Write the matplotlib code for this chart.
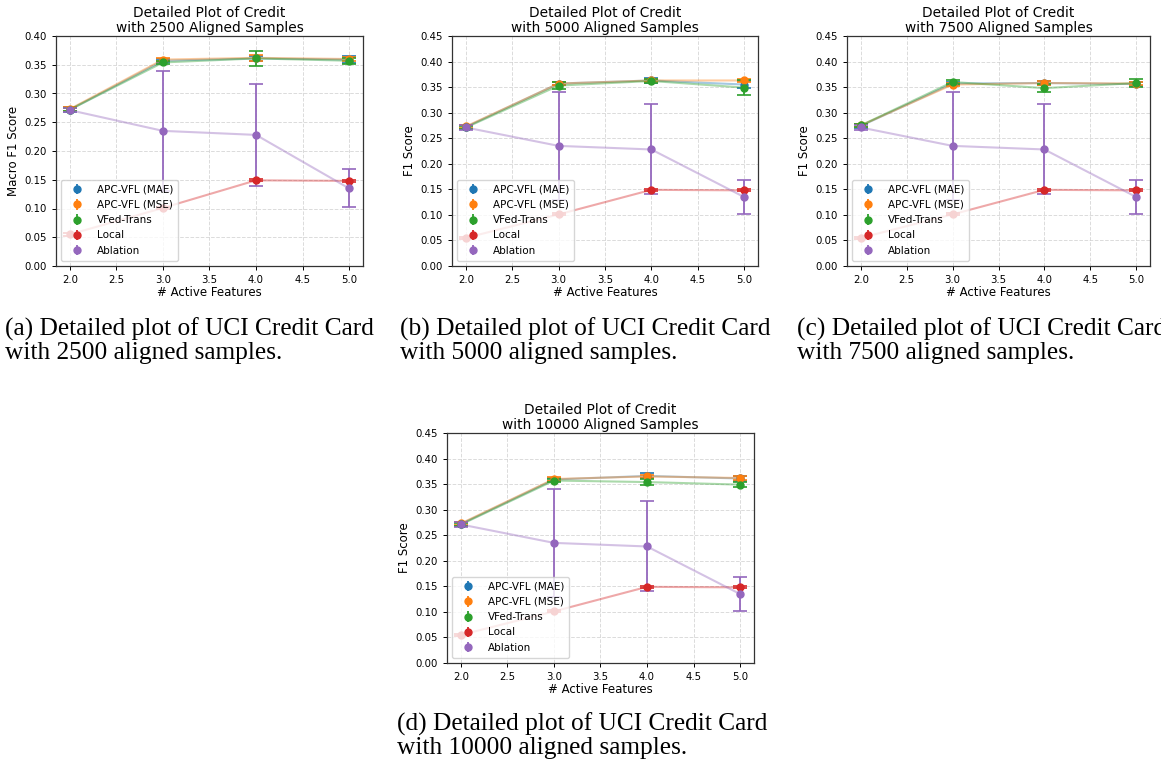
import matplotlib
matplotlib.use("Agg")
import matplotlib.pyplot as plt
import numpy as np

x_features = [2.0, 3.0, 4.0, 5.0]
series_names = ["APC-VFL (MAE)", "APC-VFL (MSE)", "VFed-Trans", "Local", "Ablation"]
series_colors = ["#1f77b4", "#ff7f0e", "#2ca02c", "#d62728", "#9467bd"]

# shared baselines
local_mean = [0.055, 0.101, 0.149, 0.148]
local_err = [0.002, 0.002, 0.002, 0.002]
ablation_mean = [0.271, 0.235, 0.228, 0.135]
ablation_err = [0.004, 0.105, 0.088, 0.033]

# 2500 aligned samples
mae_2500 = [0.272, 0.357, 0.361, 0.359]
mae_2500_err = [0.004, 0.003, 0.004, 0.006]
mse_2500 = [0.273, 0.359, 0.362, 0.360]
mse_2500_err = [0.003, 0.003, 0.005, 0.004]
vfed_2500 = [0.272, 0.354, 0.361, 0.357]
vfed_2500_err = [0.003, 0.003, 0.013, 0.005]

# 5000 aligned samples
mae_5000 = [0.272, 0.357, 0.363, 0.355]
mae_5000_err = [0.004, 0.003, 0.004, 0.007]
mse_5000 = [0.273, 0.357, 0.363, 0.363]
mse_5000_err = [0.003, 0.003, 0.003, 0.003]
vfed_5000 = [0.271, 0.353, 0.362, 0.349]
vfed_5000_err = [0.003, 0.007, 0.003, 0.014]

# 7500 aligned samples
mae_7500 = [0.274, 0.357, 0.358, 0.356]
mae_7500_err = [0.004, 0.003, 0.003, 0.004]
mse_7500 = [0.275, 0.355, 0.358, 0.357]
mse_7500_err = [0.003, 0.003, 0.003, 0.003]
vfed_7500 = [0.275, 0.360, 0.348, 0.358]
vfed_7500_err = [0.003, 0.003, 0.008, 0.008]

# 10000 aligned samples
mae_10000 = [0.272, 0.359, 0.366, 0.361]
mae_10000_err = [0.004, 0.003, 0.005, 0.005]
mse_10000 = [0.273, 0.360, 0.365, 0.362]
mse_10000_err = [0.003, 0.003, 0.003, 0.004]
vfed_10000 = [0.271, 0.357, 0.354, 0.349]
vfed_10000_err = [0.003, 0.003, 0.006, 0.005]

panel_samples = [2500, 5000, 7500, 10000]
panel_ylabels = ["Macro F1 Score", "F1 Score", "F1 Score", "F1 Score"]
panel_ymax = [0.40, 0.45, 0.45, 0.45]
panel_captions = [
    "(a) Detailed plot of UCI Credit Card\nwith 2500 aligned samples.",
    "(b) Detailed plot of UCI Credit Card\nwith 5000 aligned samples.",
    "(c) Detailed plot of UCI Credit Card\nwith 7500 aligned samples.",
    "(d) Detailed plot of UCI Credit Card\nwith 10000 aligned samples.",
]
panel_data = [
    [(mae_2500, mae_2500_err), (mse_2500, mse_2500_err), (vfed_2500, vfed_2500_err)],
    [(mae_5000, mae_5000_err), (mse_5000, mse_5000_err), (vfed_5000, vfed_5000_err)],
    [(mae_7500, mae_7500_err), (mse_7500, mse_7500_err), (vfed_7500, vfed_7500_err)],
    [(mae_10000, mae_10000_err), (mse_10000, mse_10000_err), (vfed_10000, vfed_10000_err)],
]

W, H = 1161, 767
fig = plt.figure(figsize=(W / 100, H / 100), dpi=100)

axes_px = [
    (56, 36, 307, 230),
    (452, 36, 306, 230),
    (847, 36, 303, 230),
    (447, 433, 307, 230),
]
caption_px = [(5, 318), (400, 318), (797, 318), (397, 713)]

for i in range(4):
    lx, ty, w, h = axes_px[i]
    ax = fig.add_axes([lx / W, 1 - (ty + h) / H, w / W, h / H])
    all_series = panel_data[i] + [(local_mean, local_err), (ablation_mean, ablation_err)]
    handles = []
    for (m, e), name, c in zip(all_series, series_names, series_colors):
        ax.plot(x_features, m, color=c, alpha=0.4, lw=1.5)
        ax.errorbar(x_features, m, yerr=e, fmt="o", color=c, capsize=5,
                    markersize=5, elinewidth=1.3, capthick=1.2)
        proxy = ax.errorbar([np.nan], [np.nan], yerr=[0.01], fmt="o", color=c,
                            capsize=0, markersize=5, elinewidth=1.3, label=name)
        handles.append(proxy)
    ax.set_xlim(1.85, 5.15)
    ax.set_ylim(0, panel_ymax[i])
    ax.set_yticks(np.arange(0, panel_ymax[i] + 0.001, 0.05))
    ax.set_xticks([2.0, 2.5, 3.0, 3.5, 4.0, 4.5, 5.0])
    ax.grid(True, linestyle="--", color="#cccccc", alpha=0.7, lw=0.7)
    ax.tick_params(labelsize=7.3, length=3, width=0.7)
    for s in ax.spines.values():
        s.set_color("#333333")
        s.set_linewidth(0.9)
    ax.set_xlabel("# Active Features", fontsize=8.5, labelpad=1)
    ax.set_ylabel(panel_ylabels[i], fontsize=8.5, labelpad=3)
    ax.set_title(f"Detailed Plot of Credit\nwith {panel_samples[i]} Aligned Samples",
                 fontsize=9.9, pad=3, linespacing=1.05)
    ax.legend(handles=handles, loc="lower left", fontsize=7.5, framealpha=0.8,
              borderpad=0.5, labelspacing=0.5, handletextpad=0.9)
    cx, cy = caption_px[i]
    fig.text(cx / W, 1 - cy / H, panel_captions[i], fontsize=18.3,
             family="Liberation Serif", va="top", ha="left", linespacing=1.05)

fig.savefig("out.png", dpi=100)
